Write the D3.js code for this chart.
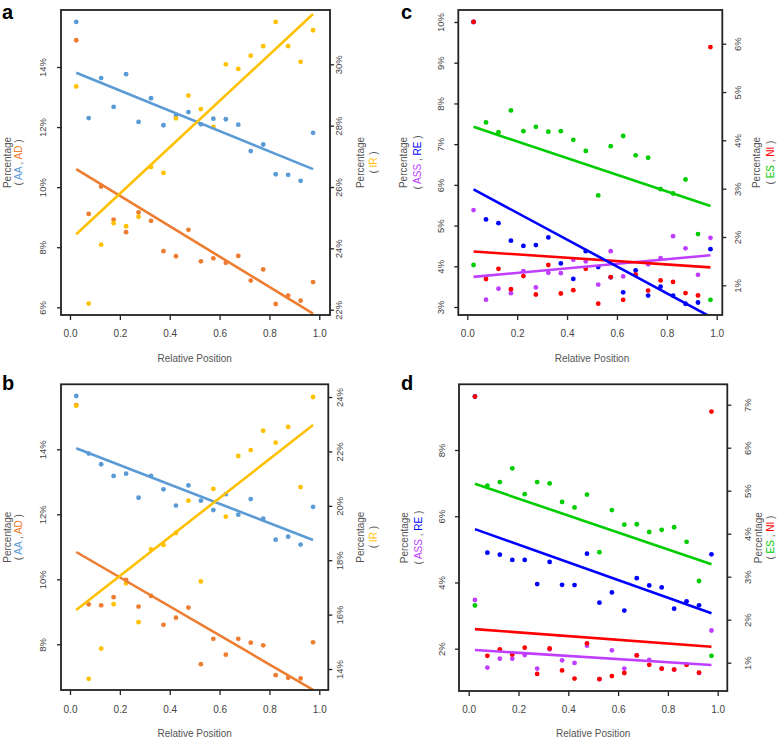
<!DOCTYPE html>
<html>
<head>
<meta charset="utf-8">
<script src="https://cdn.jsdelivr.net/npm/d3@7"></script>
<style>
  html, body { margin: 0; padding: 0; background: #fff; }
  svg { display: block; font-family: "Liberation Sans", Arial, sans-serif; }
</style>
</head>
<body>
<svg id="chart" width="778" height="739"></svg>
<script>
// ---------------- DATA ----------------
const relPos = [0.025,0.075,0.125,0.175,0.225,0.275,0.325,0.375,0.425,0.475,0.525,0.575,0.625,0.675,0.725,0.775,0.825,0.875,0.925,0.975];
const xTicks = [0, 0.2, 0.4, 0.6, 0.8, 1.0];

// Panel a
const aAA = [15.5,12.3,13.63,12.67,13.76,12.17,12.96,12.06,12.37,12.5,12.09,12.28,12.26,12.08,11.2,11.42,10.43,10.41,10.21,11.81];
const aAD = [14.89,9.11,10.02,8.92,8.5,9.16,8.88,7.87,7.7,8.58,7.53,7.63,7.48,7.71,6.89,7.26,6.11,6.39,6.22,6.84];
const aIR = [29.28,22.2,24.12,24.82,24.72,25.03,26.65,26.46,28.24,28.98,28.54,27.96,30.0,29.85,30.28,30.59,31.38,30.59,30.08,31.11];
const aFitAA = [13.81, 10.6];
const aFitAD = [10.6, 5.79];
const aFitIR = [24.46, 31.64];
const aLeftTicks = [6, 8, 10, 12, 14];
const aRightTicks = [22, 24, 26, 28, 30];

// Panel b
const bAA = [15.64,13.87,13.54,13.18,13.25,12.51,13.18,12.77,12.27,12.89,12.42,12.13,12.62,11.99,12.47,11.87,11.22,11.31,11.07,12.23];
const bAD = [15.36,9.23,9.2,9.45,9.98,9.16,9.49,8.6,8.82,9.13,7.39,8.17,7.68,8.17,8.05,7.97,7.05,6.97,6.95,8.06];
const bIR = [23.68,13.64,14.75,16.38,17.15,15.72,18.4,18.56,19.0,20.19,17.22,20.62,19.6,21.83,22.05,22.76,22.32,22.9,20.69,24.0];
const bFitAA = [14.03, 11.21];
const bFitAD = [10.84, 6.6];
const bFitIR = [16.17, 22.97];
const bLeftTicks = [8, 10, 12, 14];
const bRightTicks = [14, 16, 18, 20, 22, 24];

// Panel c
const cASS = [5.38,3.18,3.45,3.34,3.88,3.48,3.84,3.83,4.16,4.12,3.55,4.37,3.75,3.80,4.05,4.2,4.74,4.44,3.79,4.70];
const cRE  = [10.0,5.15,5.06,4.63,4.50,4.52,4.71,4.07,3.69,4.37,3.98,3.73,3.36,3.90,3.28,3.50,3.28,3.08,3.11,4.42];
const cES  = [1.42,4.37,4.17,4.62,4.19,4.28,4.18,4.19,4.01,3.78,2.86,3.88,4.09,3.69,3.64,2.99,2.90,3.19,2.06,0.70];
const cNI  = [6.45,1.13,1.34,0.92,1.19,0.81,1.42,0.83,0.90,1.34,0.62,1.17,0.70,1.22,0.89,1.10,1.07,0.84,0.79,5.93];
const cFitASS = [3.74, 4.27];
const cFitRE  = [5.89, 2.76];
const cFitES  = [4.28, 2.64];
const cFitNI  = [1.70, 1.37];
const cLeftTicks = [3, 4, 5, 6, 7, 8, 9, 10];
const cRightTicks = [1, 2, 3, 4, 5, 6];

// Panel d
const dASS = [3.47,1.43,1.70,1.70,1.81,1.40,1.98,1.65,1.57,2.09,1.08,1.95,1.40,1.80,1.66,1.40,1.37,1.52,1.27,2.55];
const dRE  = [9.615,4.9,4.84,4.68,4.68,3.95,4.62,3.93,3.92,4.87,3.39,3.70,3.15,4.13,3.91,3.85,3.21,3.43,3.31,4.85];
const dES  = [2.33,5.12,5.2,5.52,4.92,5.2,5.17,4.74,4.61,4.91,3.57,4.55,4.21,4.22,4.04,4.09,4.15,3.81,2.9,1.16];
const dNI  = [7.19,1.16,1.31,1.19,1.35,0.74,1.33,0.82,0.63,1.45,0.62,0.69,0.76,1.17,0.95,0.86,0.84,0.95,0.77,6.84];
const dFitASS = [1.96, 1.51];
const dFitRE  = [5.61, 3.07];
const dFitES  = [5.16, 3.29];
const dFitNI  = [1.78, 1.37];
const dLeftTicks = [2, 4, 6, 8];
const dRightTicks = [1, 2, 3, 4, 5, 6, 7];

const fitX = [0.025, 0.975];

// ---------------- COLOURS ----------------
const C = {
  AA: "#5B9BD5", AD: "#ED7D31", IR: "#FFC000",
  ASS: "#BF3EFF", RE: "#0000FF", ES: "#00CD00", NI: "#FF0000",
  text: "#444", title: "#555", frame: "#222"
};

// ---------------- LAYOUT ----------------
const panels = [
  { tag: "a", labX: 2, labY: 18.5,
    frame: { L: 61, R: 330, T: 10, B: 315 }, xPx: [70, 319.3],
    left: { ticks: aLeftTicks, px: [307.3, 67] }, right: { ticks: aRightTicks, px: [309.7, 64.3] },
    leftLabX: 42.5, rightLabX: 338, leftTitleX: [7, 18], rightTitleX: [360, 373],
    xLabY: 333, xTitleY: 358,
    leftNames: ["AA", "AD"], rightNames: ["IR"],
    points: [ [aAA, "left", "AA"], [aAD, "left", "AD"], [aIR, "right", "IR"] ],
    fits: [ [aFitAA, "left", "AA"], [aFitAD, "left", "AD"], [aFitIR, "right", "IR"] ] },
  { tag: "b", labX: 2, labY: 390,
    frame: { L: 61, R: 328.3, T: 384.3, B: 690 }, xPx: [70, 319.3],
    left: { ticks: bLeftTicks, px: [644.3, 449.3] }, right: { ticks: bRightTicks, px: [669, 397] },
    leftLabX: 42.5, rightLabX: 339, leftTitleX: [7, 18], rightTitleX: [360, 373],
    xLabY: 709, xTitleY: 733,
    leftNames: ["AA", "AD"], rightNames: ["IR"],
    points: [ [bAA, "left", "AA"], [bAD, "left", "AD"], [bIR, "right", "IR"] ],
    fits: [ [bFitAA, "left", "AA"], [bFitAD, "left", "AD"], [bFitIR, "right", "IR"] ] },
  { tag: "c", labX: 401, labY: 18.5,
    frame: { L: 458.3, R: 722.3, T: 10, B: 315 }, xPx: [467.3, 716.7],
    left: { ticks: cLeftTicks, px: [307, 22] }, right: { ticks: cRightTicks, px: [285.3, 43.7] },
    leftLabX: 440, rightLabX: 737, leftTitleX: [403.3, 416.5], rightTitleX: [756.7, 770],
    xLabY: 333, xTitleY: 358,
    leftNames: ["ASS", "RE"], rightNames: ["ES", "NI"],
    points: [ [cASS, "left", "ASS"], [cRE, "left", "RE"], [cES, "right", "ES"], [cNI, "right", "NI"] ],
    fits: [ [cFitASS, "left", "ASS"], [cFitNI, "right", "NI"], [cFitES, "right", "ES"], [cFitRE, "left", "RE"] ] },
  { tag: "d", labX: 401, labY: 390,
    frame: { L: 459, R: 727.3, T: 384.3, B: 691 }, xPx: [468.7, 717.7],
    left: { ticks: dLeftTicks, px: [648.7, 450] }, right: { ticks: dRightTicks, px: [662.7, 404.7] },
    leftLabX: 441, rightLabX: 747, leftTitleX: [404.7, 417.5], rightTitleX: [758, 770],
    xLabY: 709, xTitleY: 733,
    leftNames: ["ASS", "RE"], rightNames: ["ES", "NI"],
    points: [ [dASS, "left", "ASS"], [dRE, "left", "RE"], [dES, "right", "ES"], [dNI, "right", "NI"] ],
    fits: [ [dFitASS, "left", "ASS"], [dFitNI, "right", "NI"], [dFitES, "right", "ES"], [dFitRE, "left", "RE"] ] }
];

// ---------------- DRAW ----------------
const svg = d3.select("#chart");
const fmtPct = d => d3.format("d")(d) + "%";
const fmtX = d3.format(".1f");

panels.forEach((p, i) => {
  const f = p.frame;
  const g = svg.append("g");
  const x = d3.scaleLinear().domain([0, 1]).range(p.xPx);
  const yL = d3.scaleLinear()
    .domain([p.left.ticks[0], p.left.ticks[p.left.ticks.length - 1]]).range(p.left.px);
  const yR = d3.scaleLinear()
    .domain([p.right.ticks[0], p.right.ticks[p.right.ticks.length - 1]]).range(p.right.px);
  const ys = { left: yL, right: yR };

  const clipId = "clip" + i;
  svg.append("defs").append("clipPath").attr("id", clipId)
    .append("rect").attr("x", f.L).attr("y", f.T).attr("width", f.R - f.L).attr("height", f.B - f.T);

  const plot = g.append("g").attr("clip-path", `url(#${clipId})`);

  // points
  p.points.forEach(([vals, side, key]) => {
    plot.append("g").selectAll("circle")
      .data(vals.map((v, k) => [relPos[k], v]))
      .join("circle")
      .attr("cx", d => x(d[0]))
      .attr("cy", d => ys[side](d[1]))
      .attr("r", 2.4)
      .attr("fill", C[key]);
  });
  // fitted lines
  const line = (side) => d3.line().x(d => x(d[0])).y(d => ys[side](d[1]));
  p.fits.forEach(([vals, side, key]) => {
    plot.append("path")
      .datum(vals.map((v, k) => [fitX[k], v]))
      .attr("d", line(side))
      .attr("fill", "none")
      .attr("stroke", C[key])
      .attr("stroke-width", 2.6);
  });

  // frame
  g.append("rect").attr("x", f.L).attr("y", f.T).attr("width", f.R - f.L).attr("height", f.B - f.T)
    .attr("fill", "none").attr("stroke", C.frame).attr("stroke-width", 1.8);

  // x axis ticks
  const xAx = g.append("g").attr("transform", `translate(0,${f.B})`)
    .call(d3.axisBottom(x).tickValues(xTicks).tickFormat(fmtX).tickSize(5).tickSizeOuter(0));
  xAx.select(".domain").remove();
  xAx.selectAll(".tick line").attr("stroke", C.frame).attr("stroke-width", 1.3);
  xAx.selectAll(".tick text").attr("y", p.xLabY - f.B).attr("dy", "0.35em")
    .attr("fill", C.text).style("font-size", "10px").style("font-family", "Liberation Sans, Arial, sans-serif");

  // left y axis
  const yAxL = g.append("g").attr("transform", `translate(${f.L},0)`)
    .call(d3.axisLeft(yL).tickValues(p.left.ticks).tickFormat(fmtPct).tickSize(4).tickSizeOuter(0));
  yAxL.select(".domain").remove();
  yAxL.selectAll(".tick line").attr("stroke", C.frame).attr("stroke-width", 1.3);
  yAxL.selectAll(".tick text")
    .attr("x", 0).attr("dy", null)
    .attr("transform", `translate(${p.leftLabX - f.L},0) rotate(-90)`)
    .attr("text-anchor", "middle").attr("dominant-baseline", "central")
    .attr("fill", C.text).style("font-size", "9.5px").style("font-family", "Liberation Sans, Arial, sans-serif");

  // right y axis
  const yAxR = g.append("g").attr("transform", `translate(${f.R},0)`)
    .call(d3.axisRight(yR).tickValues(p.right.ticks).tickFormat(fmtPct).tickSize(4).tickSizeOuter(0));
  yAxR.select(".domain").remove();
  yAxR.selectAll(".tick line").attr("stroke", C.frame).attr("stroke-width", 1.3);
  yAxR.selectAll(".tick text")
    .attr("x", 0).attr("dy", null)
    .attr("transform", `translate(${p.rightLabX - f.R},0) rotate(-90)`)
    .attr("text-anchor", "middle").attr("dominant-baseline", "central")
    .attr("fill", C.text).style("font-size", "9.5px").style("font-family", "Liberation Sans, Arial, sans-serif");

  // x title
  g.append("text").attr("x", (p.xPx[0] + p.xPx[1]) / 2).attr("y", p.xTitleY)
    .attr("text-anchor", "middle").attr("dominant-baseline", "central")
    .attr("fill", C.title).style("font-size", "10px").text("Relative Position");

  // y titles
  const cy = (f.T + f.B) / 2;
  const yTitle = (xs, names) => {
    g.append("text").attr("transform", `translate(${xs[0]},${cy}) rotate(-90)`)
      .attr("text-anchor", "middle").attr("dominant-baseline", "central")
      .attr("fill", C.title).style("font-size", "10px").text("Percentage");
    const t = g.append("text").attr("transform", `translate(${xs[1]},${cy}) rotate(-90)`)
      .attr("text-anchor", "middle").attr("dominant-baseline", "central")
      .attr("fill", C.title).style("font-size", "10px").attr("xml:space", "preserve");
    t.append("tspan").text("( ");
    names.forEach((n, k) => {
      if (k > 0) t.append("tspan").text(" , ");
      t.append("tspan").attr("fill", C[n]).text(n);
    });
    t.append("tspan").text(" )");
  };
  yTitle(p.leftTitleX, p.leftNames);
  yTitle(p.rightTitleX, p.rightNames);

  // panel letter
  svg.append("text").attr("x", p.labX).attr("y", p.labY)
    .attr("fill", "#000").style("font-size", "20px").style("font-weight", "bold")
    .style("font-family", "Liberation Sans, Arial, sans-serif").text(p.tag);
});
</script>
</body>
</html>
